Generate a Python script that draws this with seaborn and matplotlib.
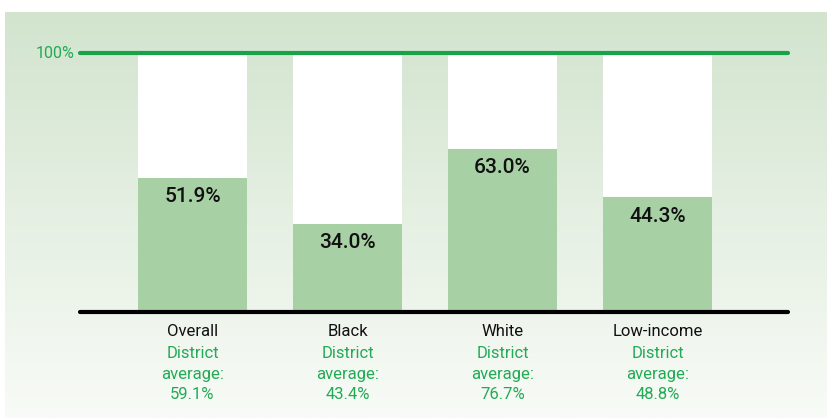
import matplotlib
matplotlib.use("Agg")
import matplotlib.pyplot as plt
import seaborn as sns
import numpy as np
import pandas as pd

sns.set_theme(style="white")
plt.rcParams['font.family'] = ['Roboto', 'DejaVu Sans']

# Data
groups = ["Overall", "Black", "White", "Low-income"]
rates = [51.9, 34.0, 63.0, 44.3]
district_avg = [59.1, 43.4, 76.7, 48.8]
full = [100, 100, 100, 100]

bar_green = "#a8d0a5"
line_green = "#18a34a"
text_green = "#22aa55"

df = pd.DataFrame({"group": groups, "rate": rates, "full": full})

fig = plt.figure(figsize=(8.27, 4.18), dpi=100)

# gradient background panel
bg = fig.add_axes([5 / 827, 0, 822 / 827, 406 / 418])
grad = np.linspace(0, 1, 256).reshape(-1, 1)
top = np.array([210, 228, 206]) / 255
bot = np.array([248, 251, 247]) / 255
img = top + (bot - top) * grad[..., None]
bg.imshow(img, aspect="auto", extent=[0, 1, 0, 1])
bg.set_axis_off()

ax = fig.add_axes([80 / 827, 106 / 418, 708 / 827, 259 / 418])
ax.patch.set_alpha(0)

sns.barplot(data=df, x="group", y="full", color="white", width=0.703,
            saturation=1, linewidth=0, ax=ax, zorder=1)
sns.barplot(data=df, x="group", y="rate", color=bar_green, width=0.703,
            saturation=1, linewidth=0, ax=ax, zorder=2)

ax.set_xlim(-0.726, 3.842)
ax.set_ylim(0, 100)
for s in ax.spines.values():
    s.set_visible(False)
ax.set_xticks([])
ax.set_yticks([])
ax.set_xlabel("")
ax.set_ylabel("")

ax.axhline(0, color="black", lw=3, clip_on=False, zorder=3)
ax.axhline(100, color=line_green, lw=3, clip_on=False, zorder=3)
ax.annotate("100%", xy=(0, 100), xycoords=("axes fraction", "data"),
            xytext=(-4, 0), textcoords="offset points", ha="right",
            va="center", color=text_green, fontsize=11.5)

for i, (r, d) in enumerate(zip(rates, district_avg)):
    ax.annotate(f"{r:.1f}%", xy=(i, r), xytext=(0, -13.5),
                textcoords="offset points", ha="center", va="center",
                fontsize=15, fontweight="medium", color="#111111", zorder=4)
    lines = [(groups[i], "#111111"), ("District", text_green),
             ("average:", text_green), (f"{d:.1f}%", text_green)]
    for k, (txt, col) in enumerate(lines):
        ax.annotate(txt, xy=(i, 0), xycoords=("data", "axes fraction"),
                    xytext=(0, -14.4 - 14.6 * k - (1.2 if k else 0)),
                    textcoords="offset points", ha="center", va="center",
                    fontsize=12, color=col)

fig.savefig("out.png", dpi=100)
